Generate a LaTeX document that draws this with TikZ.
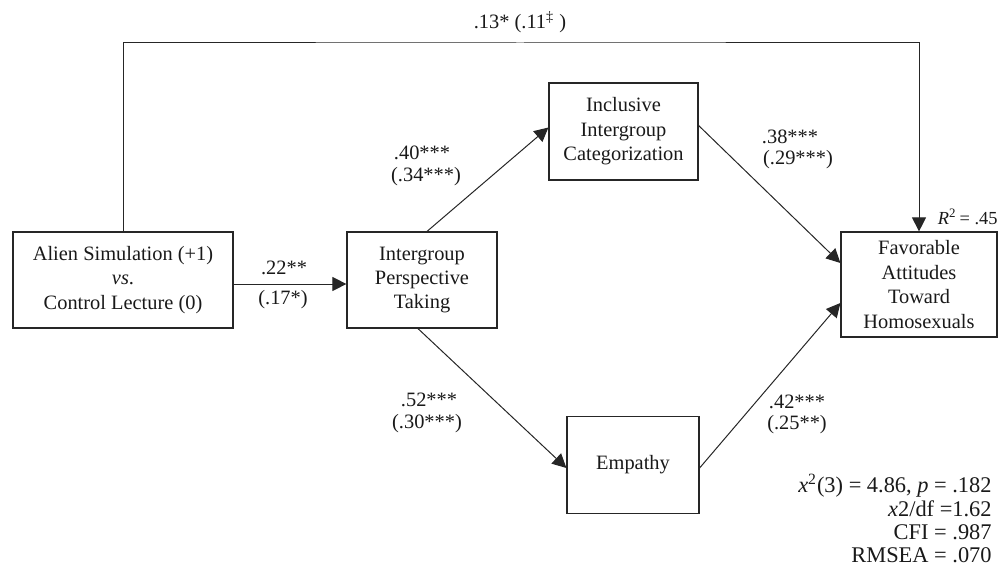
\documentclass[tikz,border=0pt]{standalone}
\usepackage{fontspec}
\setmainfont{Liberation Serif}
\usetikzlibrary{arrows.meta}
\begin{document}
\begin{tikzpicture}[x=0.5pt,y=-0.5pt,
  every node/.style={font=\fontsize{10.2}{12.2}\selectfont, inner sep=0pt, text=black!90},
  box/.style={draw=black!85, line width=0.6pt, align=center, anchor=center},
  conn/.style={draw=black!85, line width=0.5pt},
  arr/.style={conn, -{Triangle[length=7pt,width=7pt]}},
  lbl/.style={align=center},
  fit/.style={anchor=east, font=\fontsize{11.2}{12}\selectfont}
]
\useasboundingbox (0,0) rectangle (999,577);
% boxes
\node[box, minimum width=110pt, minimum height=48pt] (alien) at (123,280) {Alien Simulation (+1)\\\textit{vs}.\\Control Lecture (0)};
\node[box, minimum width=75pt, minimum height=48pt] (ipt) at (422,280) {Intergroup\\Perspective\\Taking};
\node[box, minimum width=74.5pt, minimum height=48.5pt] (inc) at (623.5,131.5) {Inclusive\\Intergroup\\Categorization};
\node[box, minimum width=66pt, minimum height=48.5pt] (emp) at (633,465) {Empathy};
\node[box, minimum width=78pt, minimum height=52.5pt] (fav) at (919,284.5) {Favorable\\Attitudes\\Toward\\Homosexuals};
% connectors
\coordinate (topc) at (520,43);
\draw[arr] (alien.north) |- (topc) -| (fav.north);
\draw[arr] ([yshift=-2pt]alien.east) -- ([yshift=-2pt]ipt.west);
\draw[arr] ([xshift=2.5pt]ipt.north) -- ([yshift=2pt]inc.west);
\draw[arr] ([xshift=-2pt]ipt.south) -- ([yshift=-1.5pt]emp.west);
\draw[arr] ([yshift=3pt]inc.east) -- ([yshift=10.75pt]fav.west);
\draw[arr] ([yshift=-1.5pt]emp.east) -- ([yshift=-9.25pt]fav.west);
% labels
\node[lbl] (l13) at (520,22) {.13* (.11\textsuperscript{‡} )};
\node[lbl] (l22) at (284,268) {.22**};
\node[lbl] (l17) at (283,300) {(.17*)};
\node[lbl] (l40) at (422,153) {.40***};
\node[lbl] (l34) at (426,177) {(.34***)};
\node[lbl] (l38) at (790,137) {.38***};
\node[lbl] (l29) at (798,160) {(.29***)};
\node[lbl] (l52) at (429,400) {.52***};
\node[lbl] (l30) at (427,424) {(.30***)};
\node[lbl] (l42) at (797,402) {.42***};
\node[lbl] (l25) at (797,425) {(.25**)};
\node[anchor=east, font=\fontsize{9.2}{11}\selectfont] (r2) at (998,217) {\textit{R}\textsuperscript{2}\,= .45};
% fit statistics
\node[fit] (fit1) at (992,486) {\textit{x}\textsuperscript{2}(3) = 4.86, \textit{p} = .182};
\node[fit] (fit2) at (992,509) {\textit{x}2/df =1.62};
\node[fit] (fit3) at (992,532) {CFI = .987};
\node[fit] (fit4) at (992,555) {RMSEA = .070};
\end{tikzpicture}
\end{document}
